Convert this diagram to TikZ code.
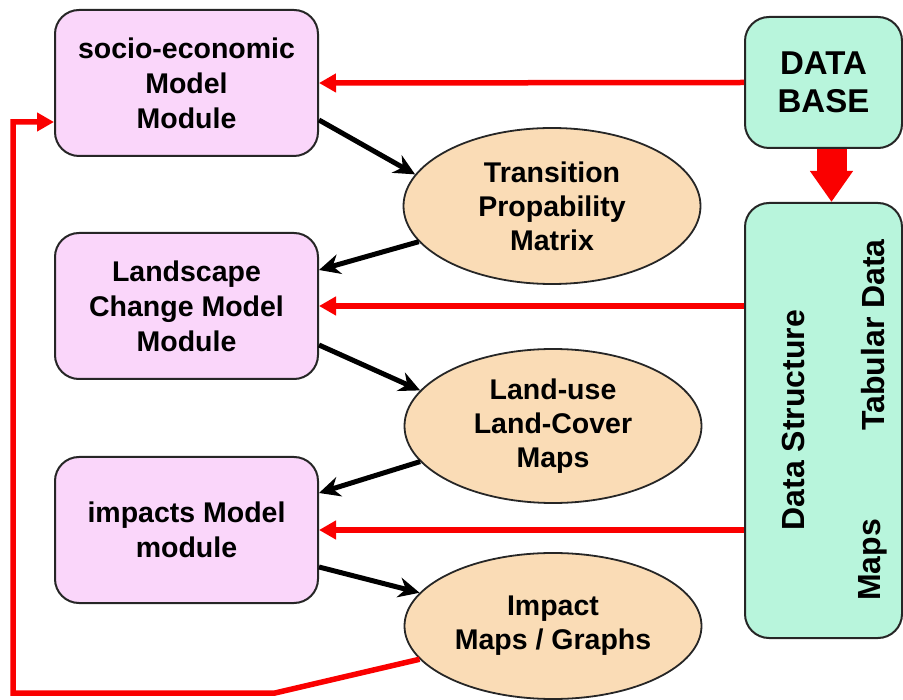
\documentclass[tikz,border=0pt]{standalone}
\usepackage{fontspec}
\setmainfont{Liberation Sans}
\usetikzlibrary{arrows.meta,shapes.geometric}

\definecolor{modfill}{RGB}{250,214,250}
\definecolor{ellfill}{RGB}{250,220,182}
\definecolor{datafill}{RGB}{184,245,220}
\definecolor{feedred}{RGB}{250,0,0}

\tikzset{
  module/.style={draw=black!85, line width=2pt, fill=modfill, rounded corners=24pt,
    minimum width=263pt, minimum height=146pt, align=center, inner sep=0pt,
    font=\fontsize{28.5}{35}\selectfont\bfseries},
  product/.style={draw=black!85, line width=1.8pt, fill=ellfill, ellipse,
    minimum width=297pt, inner sep=0pt, align=center,
    font=\fontsize{28.5}{34}\selectfont\bfseries},
  store/.style={draw=black!85, line width=2pt, fill=datafill, rounded corners=24pt,
    minimum width=157pt, inner sep=0pt, align=center},
  flow/.style={line width=5pt, black, -{Stealth[length=21pt,width=20pt]}},
  feed/.style={line width=5.5pt, feedred, -{Triangle[length=17pt,width=18pt]}},
  sidetext/.style={rotate=90, font=\fontsize{32}{36}\selectfont\bfseries}
}

\begin{document}
\begin{tikzpicture}[x=1pt,y=-1pt]
  \useasboundingbox (0,0) rectangle (903,700);

  % model modules
  \node[module] (B1) at (186.5,83)  {socio-economic\\Model\\Module};
  \node[module] (B2) at (186.5,306) {Landscape\\Change Model\\Module};
  \node[module] (B3) at (186.5,530) {impacts Model\\module};

  % intermediate products
  \node[product, minimum height=156pt] (E1) at (552,206) {Transition\\Propability\\Matrix};
  \node[product, minimum height=154pt] (E2) at (553,426) {Land-use\\Land-Cover\\Maps};
  \node[product, minimum height=146pt] (E3) at (553,626) {Impact\\Maps / Graphs};

  % data stores
  \node[store, minimum height=131pt, font=\fontsize{33}{38}\selectfont\bfseries]
    (DB) at (823.5,82.5) {DATA\\BASE};
  \node[store, minimum height=435pt] (DS) at (823.5,420.5) {};
  \node[sidetext] (DSt) at (793,420) {Data Structure};
  \node[sidetext] (TDt) at (873,335) {Tabular Data};
  \node[sidetext] (MPt) at (873,560) {Maps};

  % database feeds the data structure
  \draw[feedred, line width=30pt, -{Triangle[length=31pt,width=41pt]}]
    ([xshift=8pt]DB.south) -- ([xshift=8pt]DB.south |- DS.north);

  % data inputs to the modules
  \draw[feed] (DB.west) -- (B1.east);
  \draw[feed] (DS.west |- B2.east) -- (B2.east);
  \draw[feed] (DS.west |- B3.east) -- (B3.east);

  % model chain
  \draw[flow] ([yshift=-37pt]B1.east) -- (E1.167);
  \draw[flow] (E1.195) -- ([yshift=36pt]B2.east);
  \draw[flow] ([yshift=-39pt]B2.east) -- (E2.165);
  \draw[flow] (E2.195) -- ([yshift=37pt]B3.east);
  \draw[flow] ([yshift=-37pt]B3.east) -- (E3.166);

  % feedback loop back to the socio-economic module
  \coordinate (fb1) at (275,693);
  \coordinate (fb2) at (13,693);
  \draw[feed] (E3.194) -- (fb1) -- (fb2) |- ([yshift=-39pt]B1.west);
\end{tikzpicture}
\end{document}
